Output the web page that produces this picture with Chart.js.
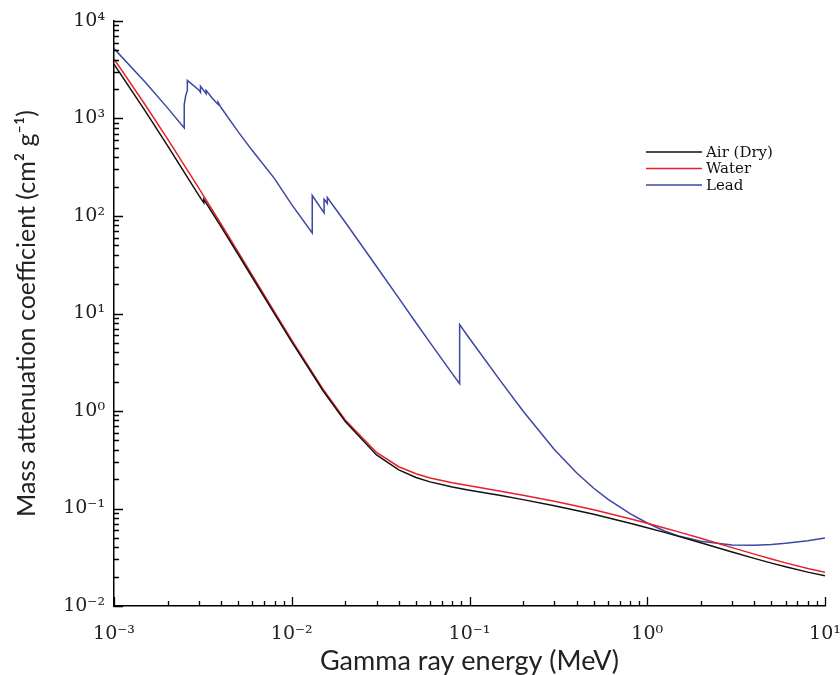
<!DOCTYPE html>
<html>
<head>
<meta charset="utf-8">
<script src="https://cdn.jsdelivr.net/npm/chart.js@4/dist/chart.umd.min.js"></script>
<style>
  body { margin: 0; background: #fff; }
  #wrap { width: 840px; height: 675px; }
</style>
</head>
<body>
<div id="wrap"><canvas id="attenuation-chart"></canvas></div>
<script>
// photon energy (MeV) and mass attenuation coefficient (cm2/g)
const airE = [0.001, 0.0015, 0.002, 0.003, 0.0032, 0.0032, 0.004, 0.005, 0.006, 0.008, 0.01, 0.015, 0.02, 0.03, 0.04, 0.05, 0.06, 0.08, 0.1, 0.15, 0.2, 0.3, 0.4, 0.5, 0.6, 0.8, 1, 1.25, 1.5, 2, 3, 4, 5, 6, 8, 10];
const airMu = [3606, 1191, 527.9, 162.5, 136.4, 148.5, 77.88, 40.27, 23.41, 9.921, 5.12, 1.614, 0.7779, 0.3538, 0.2485, 0.208, 0.1875, 0.1662, 0.1541, 0.1356, 0.1233, 0.1067, 0.09549, 0.08712, 0.08055, 0.07074, 0.06358, 0.05687, 0.05175, 0.04447, 0.03581, 0.03079, 0.02751, 0.02522, 0.02225, 0.02045];

const waterE = [0.001, 0.0015, 0.002, 0.003, 0.004, 0.005, 0.006, 0.008, 0.01, 0.015, 0.02, 0.03, 0.04, 0.05, 0.06, 0.08, 0.1, 0.15, 0.2, 0.3, 0.4, 0.5, 0.6, 0.8, 1, 1.25, 1.5, 2, 3, 4, 5, 6, 8, 10];
const waterMu = [4078, 1376, 617.3, 192.9, 82.78, 42.58, 24.64, 10.37, 5.329, 1.673, 0.8096, 0.3756, 0.2683, 0.2269, 0.2059, 0.1837, 0.1707, 0.1505, 0.137, 0.1186, 0.1061, 0.09687, 0.08956, 0.07865, 0.07072, 0.06323, 0.05754, 0.04942, 0.03969, 0.03403, 0.03031, 0.0277, 0.02429, 0.02219];

const leadE = [0.001, 0.0015, 0.002, 0.002484, 0.002484, 0.002534, 0.002586, 0.002586, 0.003, 0.003066, 0.003066, 0.003301, 0.003301, 0.003554, 0.003851, 0.003851, 0.004, 0.005, 0.006, 0.008, 0.01, 0.01304, 0.01304, 0.015, 0.0152, 0.0152, 0.01553, 0.01586, 0.01586, 0.02, 0.03, 0.04, 0.05, 0.06, 0.08, 0.088, 0.088, 0.1, 0.15, 0.2, 0.3, 0.4, 0.5, 0.6, 0.8, 1, 1.25, 1.5, 2, 3, 4, 5, 6, 8, 10];
const leadMu = [5210, 2356, 1285, 800.6, 1397, 1726, 1944, 2458, 1965, 1857, 2146, 1796, 1943, 1633, 1395, 1470, 1296, 729.9, 468.8, 241.7, 130.6, 67.01, 162.1, 111.6, 107.8, 148.5, 141.6, 134.4, 154.8, 86.36, 30.32, 14.36, 8.041, 5.021, 2.419, 1.91, 7.683, 5.549, 2.014, 0.9985, 0.4031, 0.2323, 0.1614, 0.1248, 0.0887, 0.07102, 0.05876, 0.05222, 0.04606, 0.04234, 0.04197, 0.04272, 0.04391, 0.04675, 0.04972];

const seriesNames = ['Air (Dry)', 'Water', 'Lead'];
const seriesColors = ['#111111', '#e8202a', '#3c47a3'];

// axis decades, tick labels are 10^n
const xExponents = [-3, -2, -1, 0, 1];
const yExponents = [-2, -1, 0, 1, 2, 3, 4];

const sup = { '-': '\u207B', '0': '\u2070', '1': '\u00B9', '2': '\u00B2', '3': '\u00B3', '4': '\u2074' };
const powLabel = e => '10' + String(e).split('').map(c => sup[c]).join('');

function decadeTicks(exps) {
  const out = [];
  exps.forEach((e, i) => {
    const base = Math.pow(10, e);
    const last = i === exps.length - 1;
    for (let m = 1; m <= (last ? 1 : 9); m++) {
      out.push({ value: m * base, major: m === 1, exp: e });
    }
  });
  return out;
}

const pts = (xs, ys) => xs.map((x, i) => ({ x: x, y: ys[i] }));

const serif = "'DejaVu Serif', 'Liberation Serif', serif";
const sans = "Lato, 'Open Sans', sans-serif";

// inward tick marks and the legend box inside the plot
const framePlugin = {
  id: 'frame',
  afterDatasetsDraw(chart) {
    const { ctx, chartArea: a, scales: { x, y } } = chart;
    ctx.save();
    ctx.strokeStyle = '#000';
    ctx.lineWidth = 1.3;
    ctx.beginPath();
    x.ticks.forEach(t => {
      const px = Math.round(x.getPixelForValue(t.value)) + 0.5;
      const len = t.major ? 9 : 5;
      ctx.moveTo(px, a.bottom);
      ctx.lineTo(px, a.bottom - len);
    });
    y.ticks.forEach(t => {
      const py = Math.round(y.getPixelForValue(t.value)) + 0.5;
      const len = t.major ? 9 : 5;
      ctx.moveTo(a.left, py);
      ctx.lineTo(a.left + len, py);
    });
    ctx.stroke();

    ctx.font = '15px ' + serif;
    ctx.textBaseline = 'middle';
    ctx.fillStyle = '#111';
    chart.data.datasets.forEach((ds, i) => {
      const ly = 152 + i * 16.5;
      ctx.strokeStyle = ds.borderColor;
      ctx.lineWidth = 1.5;
      ctx.beginPath();
      ctx.moveTo(646, ly);
      ctx.lineTo(702, ly);
      ctx.stroke();
      ctx.fillText(ds.label, 706, ly + 1);
    });
    ctx.restore();
  }
};

const ctx = document.getElementById('attenuation-chart');

new Chart(ctx, {
  type: 'scatter',
  data: {
    datasets: [
      { label: seriesNames[0], data: pts(airE, airMu) },
      { label: seriesNames[1], data: pts(waterE, waterMu) },
      { label: seriesNames[2], data: pts(leadE, leadMu) },
    ].map((ds, i) => Object.assign(ds, {
      showLine: true,
      borderColor: seriesColors[i],
      backgroundColor: seriesColors[i],
      borderWidth: 1.5,
      pointRadius: 0,
      tension: 0,
    })),
  },
  options: {
    responsive: true,
    maintainAspectRatio: false,
    animation: false,
    layout: { padding: { top: 21, right: 15, left: 0, bottom: 0 } },
    scales: {
      x: {
        type: 'logarithmic',
        min: 0.001,
        max: 10,
        afterBuildTicks: s => { s.ticks = decadeTicks(xExponents); },
        afterFit: s => { s.height = 69; s.paddingLeft = 0; s.paddingRight = 0; },
        border: { display: true, color: '#000', width: 1.5 },
        grid: { drawOnChartArea: false, drawTicks: false },
        ticks: {
          autoSkip: false,
          maxRotation: 0,
          padding: 17,
          color: '#222',
          font: { family: serif, size: 19 },
          callback: (v, i, ticks) => ticks[i].major ? powLabel(ticks[i].exp) : '',
        },
        title: {
          display: true,
          text: 'Gamma ray energy (MeV)',
          color: '#222',
          font: { family: sans, size: 27, lineHeight: 1 },
          padding: { top: 0, bottom: 0 },
        },
      },
      y: {
        type: 'logarithmic',
        min: 0.01,
        max: 10000,
        afterBuildTicks: s => { s.ticks = decadeTicks(yExponents); },
        afterFit: s => { s.width = 114; s.paddingTop = 0; s.paddingBottom = 0; },
        border: { display: true, color: '#000', width: 1.5 },
        grid: { drawOnChartArea: false, drawTicks: false },
        ticks: {
          autoSkip: false,
          padding: 9,
          color: '#222',
          font: { family: serif, size: 19 },
          callback: (v, i, ticks) => ticks[i].major ? powLabel(ticks[i].exp) : '',
        },
        title: {
          display: true,
          text: 'Mass attenuation coefficient (cm\u00B2 g\u207B\u00B9)',
          color: '#222',
          font: { family: sans, size: 25 },
          padding: { top: 12, bottom: 0 },
        },
      },
    },
    plugins: {
      legend: { display: false },
      tooltip: { enabled: false },
    },
  },
  plugins: [framePlugin],
});
</script>
</body>
</html>
